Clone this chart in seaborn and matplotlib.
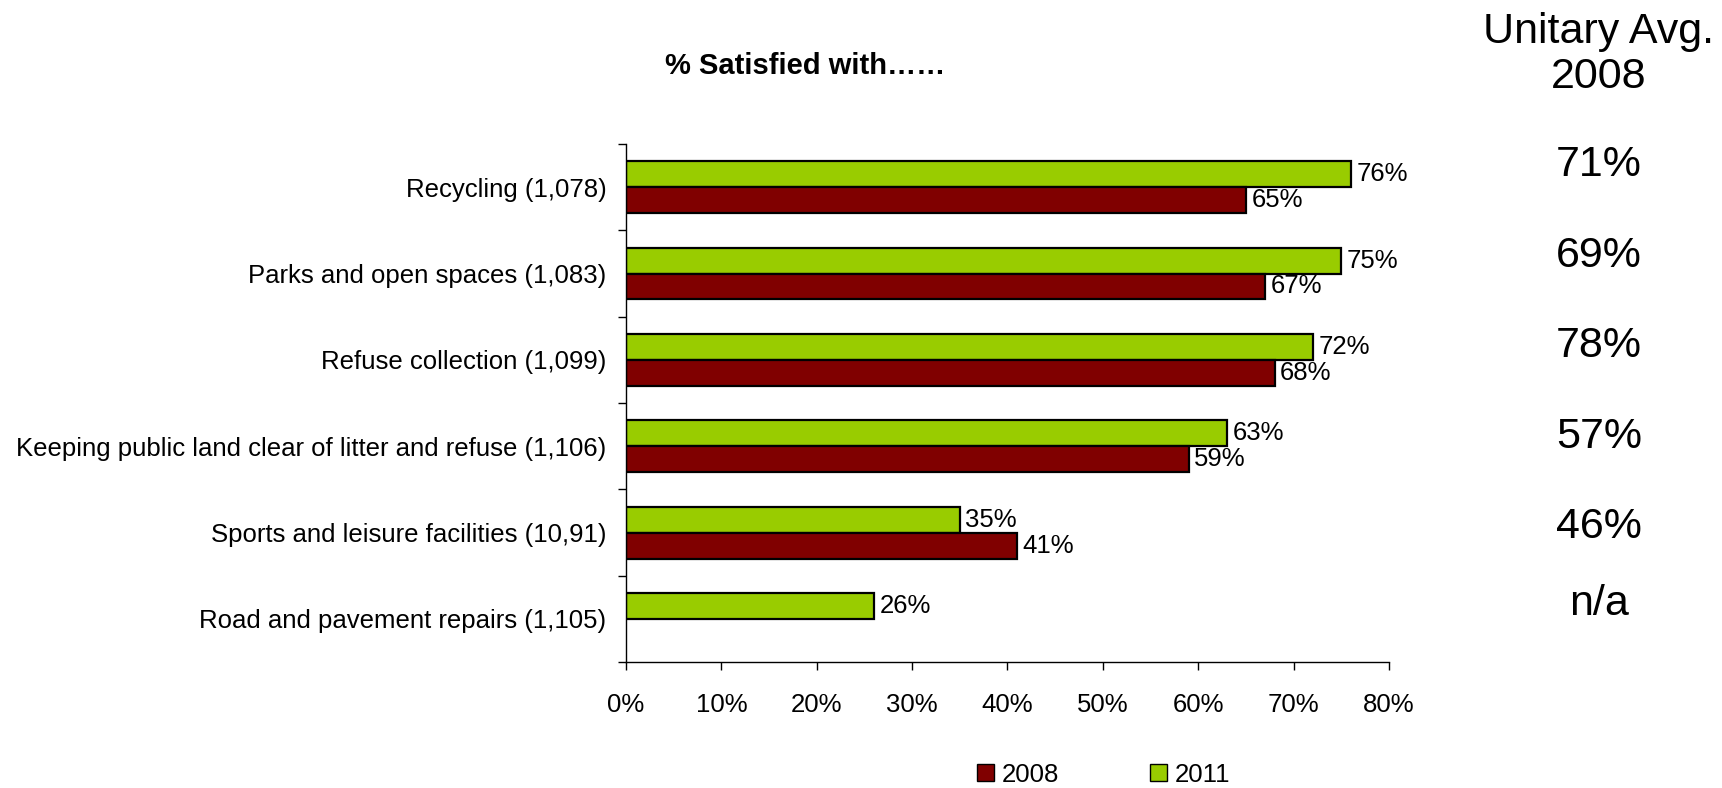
import matplotlib
matplotlib.use("Agg")
import matplotlib.pyplot as plt
import seaborn as sns
import numpy as np
import pandas as pd
from matplotlib.ticker import FixedLocator, PercentFormatter

categories = [
    "Recycling (1,078)",
    "Parks and open spaces (1,083)",
    "Refuse collection (1,099)",
    "Keeping public land clear of litter and refuse (1,106)",
    "Sports and leisure facilities (10,91)",
    "Road and pavement repairs (1,105)",
]
values_2011 = [76, 75, 72, 63, 35, 26]
values_2008 = [65, 67, 68, 59, 41, np.nan]
unitary_avg_2008 = ["71%", "69%", "78%", "57%", "46%", "n/a"]
years = ["2011", "2008"]
x_ticks = [0, 10, 20, 30, 40, 50, 60, 70, 80]

df = pd.DataFrame({
    "category": categories * 2,
    "year": ["2011"] * len(categories) + ["2008"] * len(categories),
    "value": values_2011 + values_2008,
})

sns.set_theme(style="white")
plt.rcParams["font.family"] = ["Liberation Sans", "DejaVu Sans"]
plt.rcParams["text.color"] = "black"
plt.rcParams["xtick.color"] = "black"
plt.rcParams["ytick.color"] = "black"

FS = 18.5

fig = plt.figure(figsize=(17.22, 7.88), dpi=100)
ax = fig.add_axes([0.3635, 0.1597, 0.8066 - 0.3635, 0.8173 - 0.1597])

palette = {"2011": "#99CC00", "2008": "#800000"}
sns.barplot(data=df, y="category", x="value", hue="year", hue_order=years,
            order=categories, palette=palette, width=0.6, orient="h",
            edgecolor="black", linewidth=1.6, saturation=1, ax=ax, legend=False)

# value labels at bar ends
for container in ax.containers:
    labels = []
    for bar in container:
        w = bar.get_width()
        labels.append("" if np.isnan(w) else f"{w:.0f}%")
    ax.bar_label(container, labels=labels, padding=4, fontsize=FS, color="black")

ax.set_xlim(0, 80)
ax.set_ylim(len(categories) - 0.5, -0.5)
ax.xaxis.set_major_locator(FixedLocator(x_ticks))
ax.xaxis.set_major_formatter(PercentFormatter(decimals=0))
ax.set_xlabel("")
ax.set_ylabel("")

for s in ["top", "right"]:
    ax.spines[s].set_visible(False)
for s in ["left", "bottom"]:
    ax.spines[s].set_color("black")
    ax.spines[s].set_linewidth(1.0)

ax.tick_params(axis="x", which="major", length=6, width=1, color="black",
               direction="out", bottom=True, pad=16, labelsize=FS, labelcolor="black")
ax.tick_params(axis="y", which="major", length=0, pad=14, labelsize=FS, labelcolor="black")
ax.yaxis.set_minor_locator(FixedLocator(np.arange(-0.5, len(categories), 1.0)))
ax.tick_params(axis="y", which="minor", length=6, width=1, color="black",
               direction="out", left=True)

fig.text(0.4675, 0.916, "% Satisfied with……", ha="center", va="center",
         fontsize=21, fontweight="bold")

fig.text(0.9285, 0.96, "Unitary Avg.", ha="center", va="center", fontsize=31)
fig.text(0.9285, 0.902, "2008", ha="center", va="center", fontsize=31)
avg_y_px = [165, 256, 346, 437, 527, 604]
for txt, ypx in zip(unitary_avg_2008, avg_y_px):
    fig.text(0.9285, 1 - ypx / 788, txt, ha="center", va="center", fontsize=31)

handles = [
    plt.Rectangle((0, 0), 1, 1, facecolor=palette["2008"], edgecolor="black", linewidth=1),
    plt.Rectangle((0, 0), 1, 1, facecolor=palette["2011"], edgecolor="black", linewidth=1),
]
fig.legend(handles, ["2008", "2011"], loc="center", bbox_to_anchor=(0.641, 0.017),
           ncol=2, frameon=False, fontsize=FS, handlelength=0.65, handleheight=0.65,
           handletextpad=0.3, columnspacing=3.55)

fig.savefig("out.png", dpi=100, facecolor="white")
